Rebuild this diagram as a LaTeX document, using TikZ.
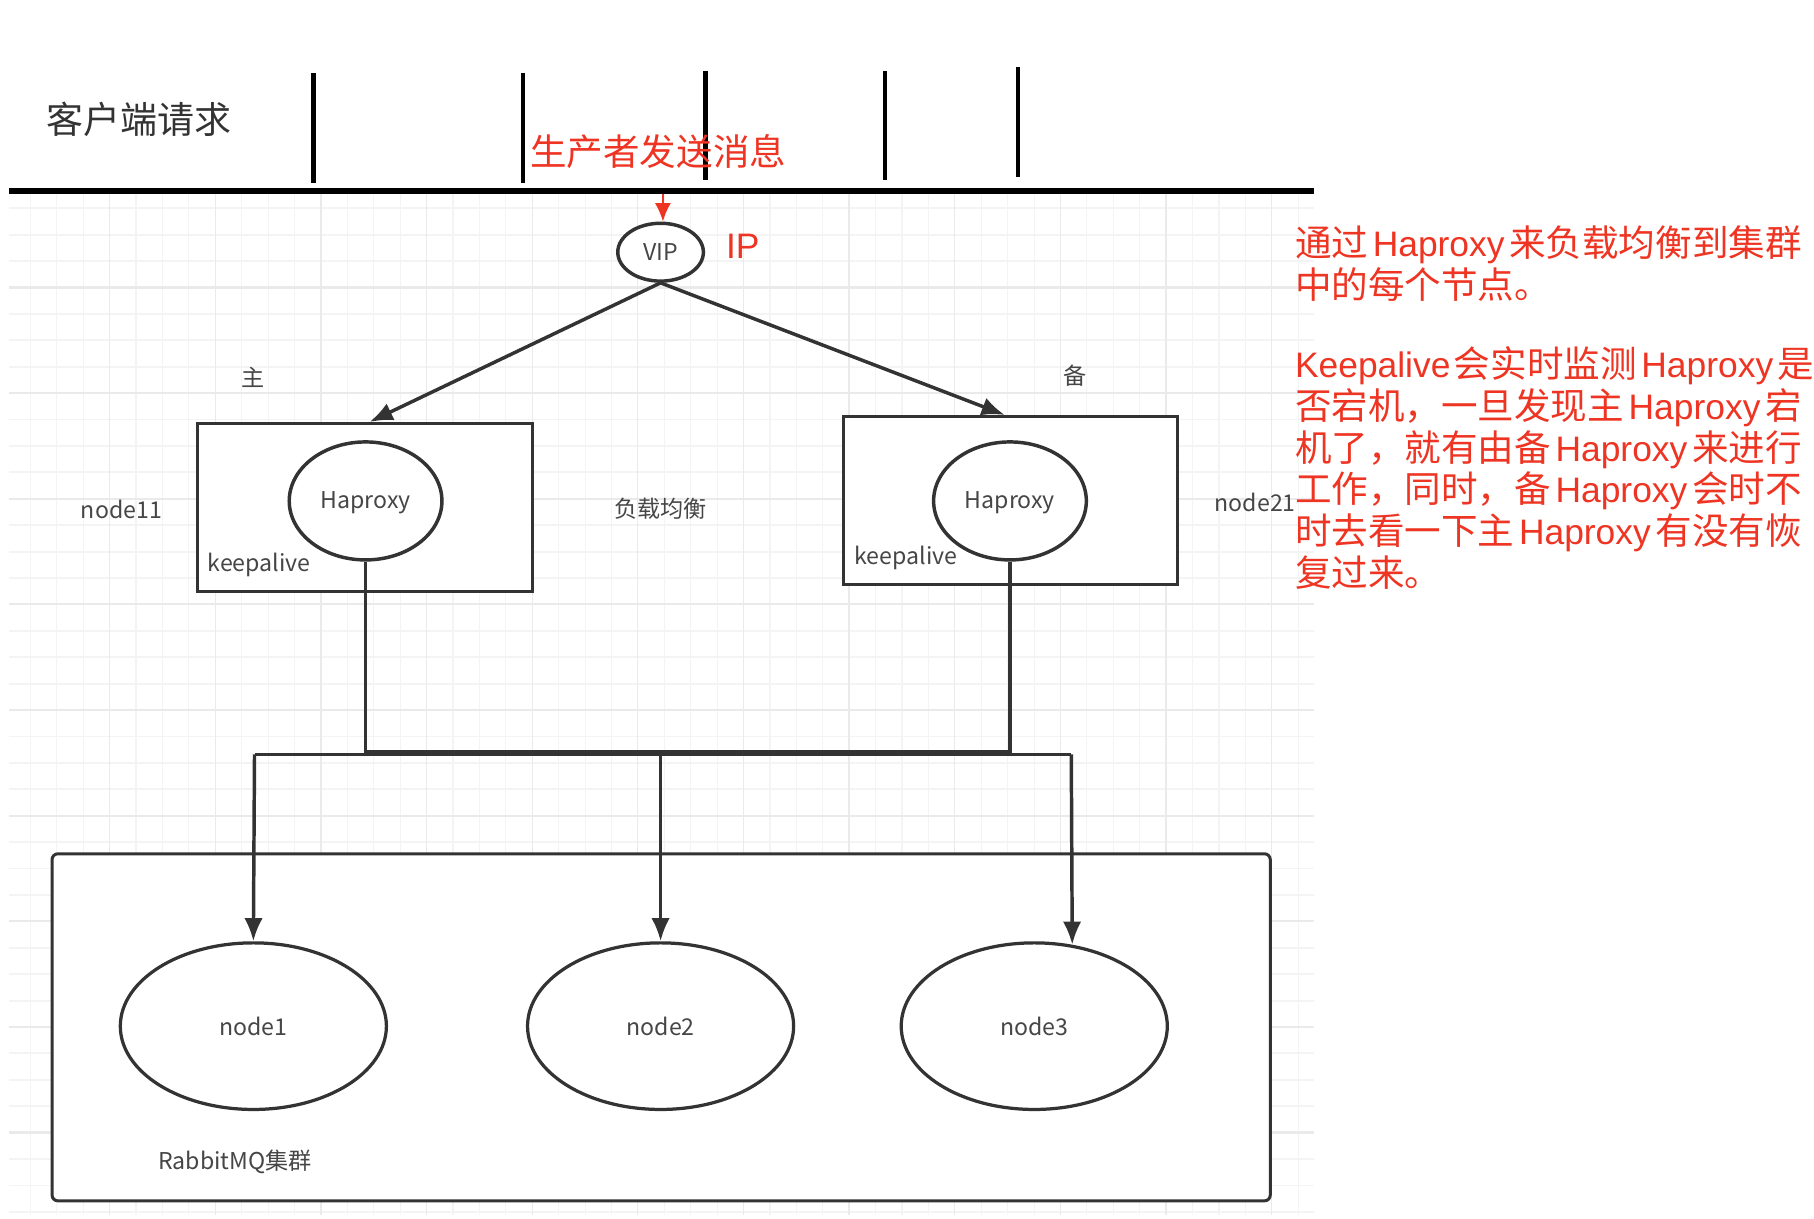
\documentclass[tikz,border=0pt]{standalone}
\usepackage{fontspec}
\setmainfont{Noto Sans CJK SC}
\newfontfamily\notefont{Liberation Sans}
\newcommand{\lat}[1]{\kern2pt{\notefont\fontsize{15.3}{18}\selectfont #1}\kern2pt}
\newcommand{\low}[1]{\raisebox{-3.2pt}[0pt][0pt]{#1}}
\usetikzlibrary{arrows.meta,shapes.geometric}
\definecolor{darkline}{RGB}{51,51,51}
\definecolor{graytext}{RGB}{70,70,70}
\definecolor{notered}{RGB}{238,52,34}
\definecolor{gridminor}{RGB}{244,244,244}
\definecolor{gridmajor}{RGB}{234,234,234}
\tikzset{
  lbl/.style={text=graytext,font=\fontsize{10}{12}\selectfont,inner sep=0pt},
  rednote/.style={text=notered,font=\fontsize{15.8}{18}\selectfont,inner sep=0pt},
  hostbox/.style={draw=darkline,line width=1.3pt,fill=white,minimum width=144.5pt,minimum height=72.5pt,inner sep=0pt},
  haproxy/.style={ellipse,draw=darkline,line width=1.5pt,fill=white,minimum width=66pt,minimum height=51pt,inner sep=0pt,text=graytext,font=\fontsize{10}{12}\selectfont},
  mqnode/.style={ellipse,draw=darkline,line width=1.4pt,fill=white,minimum width=115pt,minimum height=72pt,inner sep=0pt,text=graytext,font=\fontsize{10}{12}\selectfont},
  conn/.style={draw=darkline,line width=1.5pt},
  arr/.style={conn,-{Latex[length=10pt,width=8pt]}},
  tick/.style={line width=2pt,black}
}
\begin{document}
\begin{tikzpicture}[x=0.5pt,y=-0.5pt]
\useasboundingbox (0,0) rectangle (1568,1053);

\foreach \i [evaluate=\i as \px using 26.3+22.83*\i] in {0,...,48}
  \draw[gridminor,line width=0.5pt] (\px,168) -- (\px,1050);
\foreach \i [evaluate=\i as \py using 180+22.83*\i] in {0,...,38}
  \draw[gridminor,line width=0.8pt] (8,\py) -- (1136,\py);
\foreach \i [evaluate=\i as \px using 94.8+91.3*\i] in {0,...,11}
  \draw[gridmajor,line width=0.5pt] (\px,168) -- (\px,1050);
\foreach \i [evaluate=\i as \py using 248.5+91.3*\i] in {0,...,8}
  \draw[gridmajor,line width=0.9pt] (8,\py) -- (1136,\py);

\coordinate (linel) at (8,165);
\coordinate (liner) at (1136,165);
\draw[line width=2.5pt,black] (linel) -- (liner);
\foreach \x/\ya/\yb in {271/63/158,452/63/158,610/61/156,765/61/156,880/58/153}
  \draw[tick] (\x,\ya) -- (\x,\yb);

\node[font=\fontsize{16}{18}\selectfont,text=black!80,inner sep=0pt] (client) at (120,103) {客户端请求};
\node[rednote] (producer) at (569,131) {生产者发送消息};

\node[haproxy,minimum width=37pt,minimum height=25pt] (vip) at (571,218) {VIP};
\node[rednote,font=\notefont\fontsize{15.3}{18}\selectfont] (ip) at (642,213) {IP};
\coordinate (redstart) at (573,168);
\draw[notered,line width=0.9pt,-{Latex[length=8pt,width=7pt]}] (redstart) -- (vip.north -| redstart);

\node[hostbox] (boxl) at (315.5,438.5) {};
\node[hostbox] (boxr) at (873.5,432.5) {};
\node[haproxy] (hal) at (316,433) {\low{Haproxy}};
\node[haproxy] (har) at (873,433) {\low{Haproxy}};
\node[lbl] (keepl) at (224,488) {keepalive};
\node[lbl] (keepr) at (783,482) {keepalive};

\draw[arr] (vip.south) -- ([xshift=2pt]boxl.north);
\draw[arr] (vip.south) -- ([xshift=-2.5pt]boxr.north);

\node[lbl] (master) at (219,326) {主};
\node[lbl] (backup) at (929,325) {备};
\node[lbl] (node11) at (105,440) {node11};
\node[lbl] (balance) at (571,440) {负载均衡};
\node[lbl] (node21) at (1085,434) {node21};

\node[draw=darkline,line width=1.3pt,fill=white,rounded corners=2.5pt,minimum width=526.5pt,minimum height=150pt,inner sep=0pt] (cluster) at (571.5,888) {};
\node[mqnode] (node1) at (219,887) {node1};
\node[mqnode] (node2) at (571,887) {node2};
\node[mqnode] (node3) at (894,887) {node3};
\node[lbl] (mqlabel) at (203,1004) {RabbitMQ集群};

\coordinate (joinl) at (316,650);
\coordinate (joinr) at (873,650);
\coordinate (tap1) at (220,652);
\coordinate (tap2) at (571,652);
\coordinate (tap3) at (926,652);
\draw[conn,line width=1.6pt] (hal.south) -- (joinl) -- (joinr) -- (har.south);
\draw[conn,line width=1.3pt] (tap1) -- (tap3);
\draw[arr] (tap1) -- (node1.north);
\draw[arr] (tap2) -- (node2.north);
\draw[arr] (tap3) -- (node3.65);

\node[rednote,anchor=north west,align=left] (note1) at (1119,195)
  {通过\lat{Haproxy}来负载均衡到集群\\中的每个节点。};
\node[rednote,anchor=north west,align=left,font=\fontsize{15.8}{18.1}\selectfont] (note2) at (1119,299)
  {{\notefont\fontsize{15.3}{18}\selectfont Keepalive}\kern1.5pt会实时监测\lat{Haproxy}是\\
   否宕机，一旦发现主\lat{Haproxy}宕\\
   机了，就有由备\lat{Haproxy}来进行\\
   工作，同时，备\lat{Haproxy}会时不\\
   时去看一下主\lat{Haproxy}有没有恢\\
   复过来。};
\end{tikzpicture}
\end{document}
